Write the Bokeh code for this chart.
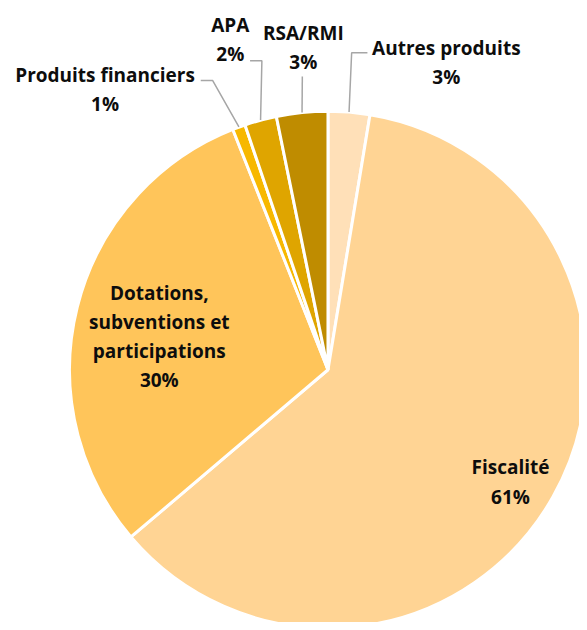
import math
from bokeh.plotting import figure
from bokeh.models import Range1d, ColumnDataSource
from bokeh.core.properties import value
from bokeh.embed import file_html
from bokeh.resources import INLINE

# ---- data ----
categories = ["Autres produits", "Fiscalité", "Dotations, subventions et participations",
              "Produits financiers", "APA", "RSA/RMI"]
values = [2.6, 61.2, 30.2, 0.8, 2.0, 3.2]
colors = ["#FFE0B8", "#FFD494", "#FFC55A", "#F7B800", "#DFA500", "#BF8C00"]

# ---- layout (reference pixel coords, y down) ----
W, H = 579, 622
RW, RH = 587, 630
cx, cy, R = 332, 374, 262
label_lines = [
    ["Autres produits"],
    ["Fiscalité"],
    ["Dotations,", "subventions et", "participations"],
    ["Produits financiers"],
    ["APA"],
    ["RSA/RMI"],
]
label_pos = [(452, 48), (517, 473), (161, 296), (106, 75), (233, 25), (307, 33)]
line_gap = 29.5
leaders = [
    [(356, 53), (372, 53)],
    None,
    None,
    [(215, 81), (203, 81)],
    [(265, 61), (253, 61)],
    [(306, 77)],
]

total = sum(values)
starts, ends, mids = [], [], []
acc = 0.0
for v in values:
    a0 = acc / total * 2 * math.pi
    acc += v
    a1 = acc / total * 2 * math.pi
    starts.append(math.pi / 2 - a0)
    ends.append(math.pi / 2 - a1)
    mids.append((a0 + a1) / 2)

p = figure(width=W, height=H, output_backend="svg", toolbar_location=None,
           x_range=Range1d(0, RW), y_range=Range1d(-RH, 0),
           x_axis_location=None, y_axis_location=None, min_border=0)
p.grid.visible = False
p.outline_line_color = None
p.background_fill_color = "white"
p.border_fill_color = "white"

src = ColumnDataSource(dict(cat=categories, val=values, start=starts, end=ends, color=colors))
p.wedge(x=cx, y=-cy, radius=R, start_angle="start", end_angle="end", direction="clock",
        fill_color="color", line_color="white", line_width=3, source=src)

for i, ld in enumerate(leaders):
    if ld is None:
        continue
    m = mids[i]
    px = cx + R * math.sin(m)
    py = cy - R * math.cos(m)
    xs = [px] + [q[0] for q in ld]
    ys = [-py] + [-q[1] for q in ld]
    p.line(xs, ys, line_color="#A6A6A6", line_width=1.5)

tx, ty, tt = [], [], []
for i, lines in enumerate(label_lines):
    x0, y0 = label_pos[i]
    pct = f"{round(values[i] / total * 100)}%"
    for j, t in enumerate(lines + [pct]):
        tx.append(x0)
        ty.append(-(y0 + j * line_gap))
        tt.append(t)
p.text(x=tx, y=ty, text=tt, text_align="center", text_baseline="middle",
       text_font=value("Open Sans"), text_font_style="bold", text_font_size="19px",
       text_color="#0D0D0D")

open("out.html", "w").write(file_html(p, INLINE))
